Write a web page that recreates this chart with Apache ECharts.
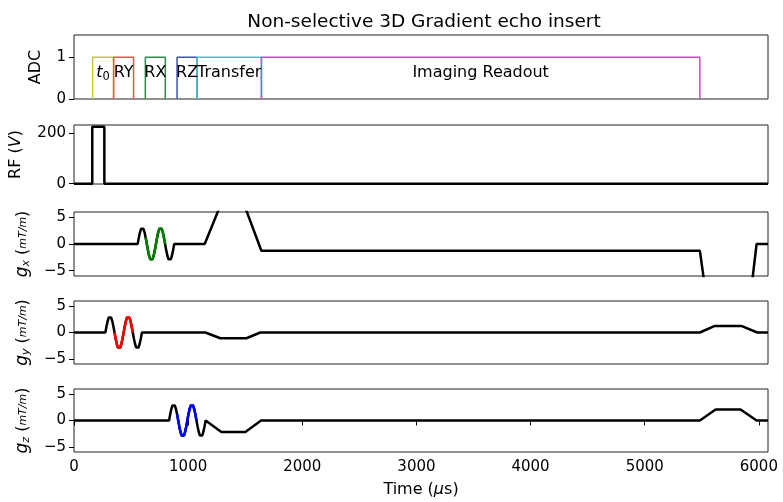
<!DOCTYPE html>
<html>
<head>
<meta charset="utf-8">
<script src="https://cdn.jsdelivr.net/npm/echarts@6/dist/echarts.min.js"></script>
<style>
  html, body { margin: 0; padding: 0; background: #fff; }
  #chart { width: 783px; height: 502px; }
</style>
</head>
<body>
<div id="chart"></div>
<script>
// ---- data (times in microseconds) ----
var timeMax = 6080;

var adcNames = ['t0', 'RY', 'RX', 'RZ', 'Transfer', 'Imaging Readout'];
var adcStart = [163, 347, 625, 903, 1078, 1642];
var adcEnd   = [347, 522, 800, 1078, 1642, 5483];

var rfTimes  = [0, 160, 160, 266, 266, 6080];
var rfValues = [0, 0, 226, 226, 0, 0];

// sinusoidal gradient lobe, one sample every 10 us
var lobeStep = 10;
var lobeShape = [0, 1.19, 2.19, 2.86, 3.1, 2.86, 2.19, 1.19,
                 0, -1.19, -2.19, -2.86, -3.1, -2.86, -2.19, -1.19,
                 0, 1.19, 2.19, 2.86, 3.1, 2.86, 2.19, 1.19,
                 0, -1.19, -2.19, -2.86, -3.1, -2.86, -2.19, -1.19, 0];

var gxLobeStart = 558;
var gxAfter = [[1145, 0], [1297, 8], [1480, 8], [1630, -0.6], [1642, -1.25],
               [5483, -1.25], [5540, -10], [5925, -10], [5980, 0], [6080, 0]];

var gyLobeStart = 275;
var gyAfter = [[1151, 0], [1282, -1.1], [1510, -1.1], [1633, 0],
               [5483, 0], [5614, 1.25], [5846, 1.25], [5986, 0], [6080, 0]];

var gzLobeStart = 833;
var gzAfter = [[1291, -2.2], [1501, -2.2], [1639, 0],
               [5483, 0], [5621, 2.1], [5840, 2.1], [5980, 0], [6080, 0]];

// ---- build series data ----
function lobe(start) {
  return lobeShape.map(function (v, i) { return [start + i * lobeStep, v]; });
}
function gradient(start, after) {
  return [[0, 0]].concat(lobe(start), after);
}
function inAdc(data, idx) {
  return data.filter(function (p) { return p[0] >= adcStart[idx] && p[0] <= adcEnd[idx]; });
}

var gx = gradient(gxLobeStart, gxAfter);
var gy = gradient(gyLobeStart, gyAfter);
var gz = gradient(gzLobeStart, gzAfter);
var rf = rfTimes.map(function (t, i) { return [t, rfValues[i]]; });

var adcColors = ['#c8c840', '#ff4d4d', '#2e8b4a', '#3d55b5', '#40c8c8', '#c050c0'];
var FONT = 'DejaVu Sans';

var grids = [
  { top: 35,  height: 64 },
  { top: 125, height: 59 },
  { top: 212, height: 64 },
  { top: 301, height: 63 },
  { top: 389, height: 63 }
].map(function (g) {
  return { left: 74, right: 15, top: g.top, height: g.height,
           show: true, borderColor: '#222', borderWidth: 1, backgroundColor: 'transparent' };
});

function plain(v) { return v < 0 ? '\u2212' + (-v) : String(v); }

var xTicks = [0, 1000, 2000, 3000, 4000, 5000, 6000];
var xAxes = grids.map(function (g, i) {
  var last = i === grids.length - 1;
  return {
    type: 'value', gridIndex: i, min: 0, max: timeMax,
    splitLine: { show: false },
    axisLine: { show: false },
    axisTick: { show: last, inside: false, length: 5, lineStyle: { color: '#000' }, customValues: xTicks },
    axisLabel: { show: last, fontFamily: FONT, fontSize: 15, color: '#000', margin: 8,
                 customValues: xTicks, formatter: plain },
    name: last ? '{n|Time (}{i|μ}{n|s)}' : '',
    nameLocation: 'middle', nameGap: 30,
    nameTextStyle: { rich: {
      n: { fontFamily: FONT, fontSize: 16, color: '#000' },
      i: { fontFamily: FONT, fontSize: 16, color: '#000', fontStyle: 'italic' }
    } }
  };
});

function yAxis(i, min, max, ticks, name, gap) {
  return {
    type: 'value', gridIndex: i, min: min, max: max,
    splitLine: { show: false },
    axisLine: { show: false },
    axisTick: { show: true, inside: false, length: 5, lineStyle: { color: '#000' }, customValues: ticks },
    axisLabel: { fontFamily: FONT, fontSize: 15, color: '#000', margin: 8, customValues: ticks,
                 formatter: plain },
    name: name, nameLocation: 'middle', nameRotate: 90, nameGap: gap,
    nameTextStyle: { fontFamily: FONT, fontSize: 16, color: '#000', rich: {
      n: { fontFamily: FONT, fontSize: 16, color: '#000' },
      i: { fontFamily: FONT, fontSize: 16, color: '#000', fontStyle: 'italic' },
      g: { fontFamily: FONT, fontSize: 17, color: '#000', fontStyle: 'italic' },
      s: { fontFamily: FONT, fontSize: 11, color: '#000', fontStyle: 'italic', padding: [7, 0, 0, 0] },
      f: { fontFamily: FONT, fontSize: 11, color: '#000', fontStyle: 'italic' }
    } }
  };
}

function gLabel(axis) {
  return '{g|g}{s|' + axis + '} {n|(}{f|mT/m}{n|)}';
}

var yAxes = [
  yAxis(0, 0, 1.53, [0, 1], 'ADC', 30),
  yAxis(1, -1, 233, [0, 200], '{n|RF (}{i|V}{n|)}', 50),
  yAxis(2, -6, 6, [-5, 0, 5], gLabel('x'), 42),
  yAxis(3, -6, 6, [-5, 0, 5], gLabel('y'), 42),
  yAxis(4, -6, 6, [-5, 0, 5], gLabel('z'), 42)
];

function trace(data, idx, color, z) {
  return { type: 'line', xAxisIndex: idx, yAxisIndex: idx, data: data, showSymbol: false,
           symbol: 'none', lineStyle: { color: color, width: 2.5 }, z: z || 2, animation: false };
}

var series = [];
adcNames.forEach(function (n, i) {
  series.push({
    type: 'line', xAxisIndex: 0, yAxisIndex: 0, symbol: 'none', animation: false,
    data: [[adcStart[i], 0], [adcStart[i], 1], [adcEnd[i], 1], [adcEnd[i], 0]],
    lineStyle: { color: adcColors[i], width: 1.5 }
  });
});
series.push({
  type: 'scatter', xAxisIndex: 0, yAxisIndex: 0, symbolSize: 0, animation: false, z: 5,
  itemStyle: { opacity: 1 },
  data: adcNames.map(function (n, i) { return [(adcStart[i] + adcEnd[i]) / 2, 0.62, n]; }),
  label: {
    show: true, position: [0, 0], align: 'center', verticalAlign: 'middle', opacity: 1,
    fontFamily: FONT, fontSize: 16, color: '#000', textBorderWidth: 0,
    formatter: function (p) { return p.value[2] === 't0' ? '{it|t}{sub|0}' : '{n|' + p.value[2] + '}'; },
    rich: {
      n: { fontFamily: FONT, fontSize: 16, color: '#000', textBorderWidth: 0 },
      it: { fontFamily: FONT, fontSize: 16, fontStyle: 'italic', color: '#000', textBorderWidth: 0 },
      sub: { fontFamily: FONT, fontSize: 11.5, color: '#000', padding: [8, 0, 0, 0], textBorderWidth: 0 }
    }
  },
  emphasis: { disabled: true }
});
series.push(trace(rf, 1, '#000'));
series.push(trace(gx, 2, '#000'));
series.push(trace(inAdc(gx, 2), 2, '#008000', 3));
series.push(trace(gy, 3, '#000'));
series.push(trace(inAdc(gy, 1), 3, '#ff0000', 3));
series.push(trace(gz, 4, '#000'));
series.push(trace(inAdc(gz, 3), 4, '#0000ff', 3));

var chart = echarts.init(document.getElementById('chart'), null, { renderer: 'canvas' });
chart.setOption({
  animation: false,
  backgroundColor: '#fff',
  title: {
    text: 'Non-selective 3D Gradient echo insert',
    left: 419, top: 8, textAlign: 'center',
    textStyle: { fontFamily: FONT, fontSize: 18.5, fontWeight: 'normal', color: '#000' }
  },
  grid: grids,
  xAxis: xAxes,
  yAxis: yAxes,
  series: series
});
</script>
</body>
</html>
